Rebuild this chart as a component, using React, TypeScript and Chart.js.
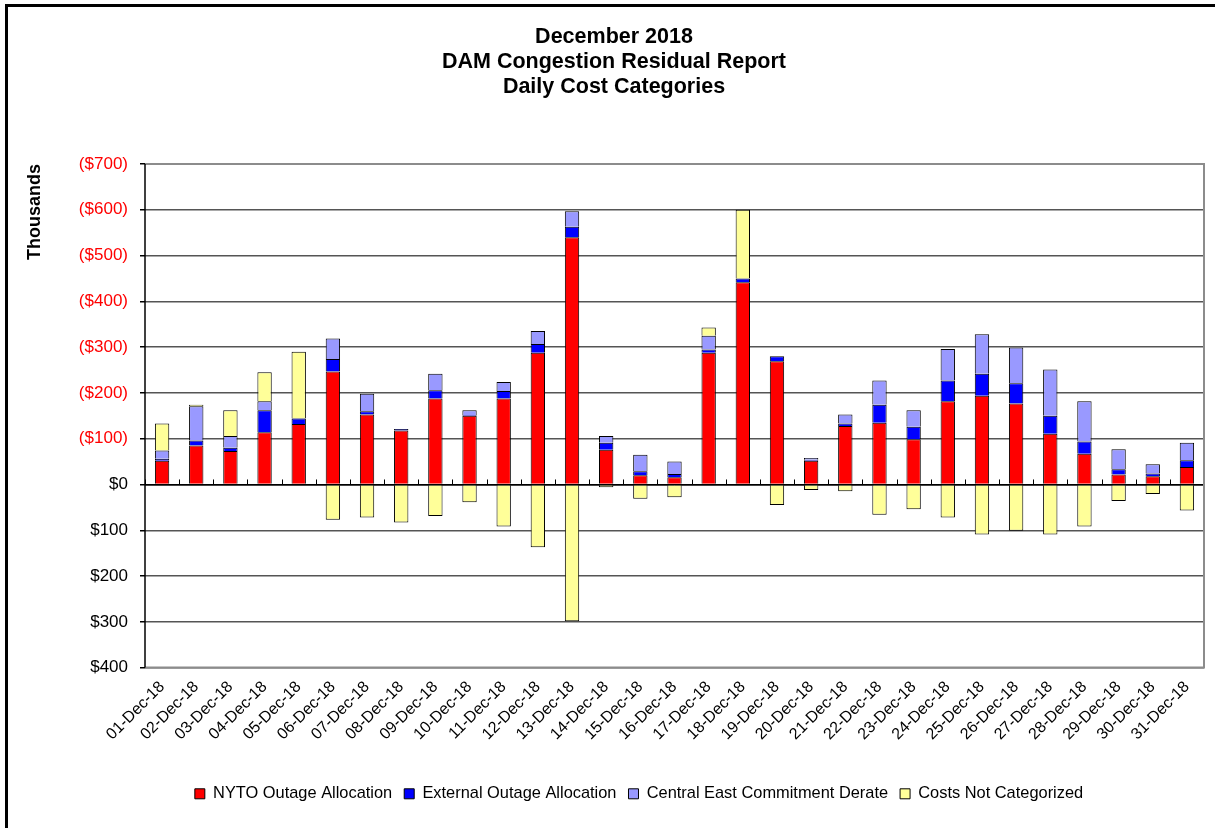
import React, { useEffect, useRef } from "react";
import { Chart, registerables } from "chart.js";

Chart.register(...registerables);

const categories = [
  "01-Dec-18", "02-Dec-18", "03-Dec-18", "04-Dec-18", "05-Dec-18", "06-Dec-18", "07-Dec-18",
  "08-Dec-18", "09-Dec-18", "10-Dec-18", "11-Dec-18", "12-Dec-18", "13-Dec-18", "14-Dec-18",
  "15-Dec-18", "16-Dec-18", "17-Dec-18", "18-Dec-18", "19-Dec-18", "20-Dec-18", "21-Dec-18",
  "22-Dec-18", "23-Dec-18", "24-Dec-18", "25-Dec-18", "26-Dec-18", "27-Dec-18", "28-Dec-18",
  "29-Dec-18", "30-Dec-18", "31-Dec-18",
];

// Values in thousands of dollars (upward = cost, shown as ($...) on the axis)
const nytoOutage = [52, 85, 73, 114, 132, 247, 153, 118, 188, 150, 188, 288, 540, 76, 20, 16, 288, 442, 269, 52, 128, 135, 99, 182, 194, 177, 111, 67, 22, 18, 38];
const externalOutage = [4, 11, 7, 48, 12, 27, 7, 3, 18, 2, 16, 19, 23, 15, 9, 7, 7, 8, 11, 2, 5, 39, 27, 45, 48, 44, 39, 27, 11, 6, 15];
const centralEast = [18, 75, 26, 20, 1, 45, 38, 0, 36, 10, 20, 28, 34, 15, 36, 27, 30, 0, 0, 4, 20, 53, 36, 69, 86, 78, 101, 88, 44, 20, 38];
const notCategorized = [59, 3, 56, 63, 145, -77, -72, -83, -69, -39, -92, -137, -299, -6, -31, -28, 18, 150, -45, -12, -15, -66, -54, -72, -109, -101, -109, -92, -36, -21, -57];

const yTickValues = [-400, -300, -200, -100, 0, 100, 200, 300, 400, 500, 600, 700];

const FONT = "'Liberation Sans', Arial, sans-serif";

const plotDecor = {
  id: "plotDecor",
  afterLayout(chart: any) {
    // Excel places the legend a little right of the canvas centre
    if (chart.legend) {
      chart.legend.left += 50;
    }
  },
  afterDatasetsDraw(chart: any) {
    const { ctx, chartArea, scales } = chart;
    const x = scales.x;
    const y = scales.y;
    const zeroY = y.getPixelForValue(0);
    ctx.save();
    ctx.strokeStyle = "#000";
    ctx.lineWidth = 1;
    ctx.beginPath();
    ctx.moveTo(chartArea.left, zeroY + 0.5);
    ctx.lineTo(chartArea.right, zeroY + 0.5);
    ctx.stroke();
    const n = categories.length;
    const step = n > 1 ? x.getPixelForValue(1) - x.getPixelForValue(0) : 0;
    for (let i = 0; i <= n; i++) {
      const px = Math.round(x.getPixelForValue(0) - step / 2 + i * step) + 0.5;
      ctx.beginPath();
      ctx.moveTo(px, zeroY);
      ctx.lineTo(px, zeroY - 5);
      ctx.stroke();
    }
    ctx.restore();
  },
  afterDraw(chart: any) {
    const { ctx, chartArea } = chart;
    ctx.save();
    ctx.strokeStyle = "#8c8c8c";
    ctx.lineWidth = 2;
    ctx.beginPath();
    ctx.moveTo(chartArea.left, chartArea.top);
    ctx.lineTo(chartArea.right, chartArea.top);
    ctx.lineTo(chartArea.right, chartArea.bottom);
    ctx.lineTo(chartArea.left, chartArea.bottom);
    ctx.stroke();
    ctx.strokeStyle = "#000";
    ctx.lineWidth = 1.5;
    ctx.beginPath();
    ctx.moveTo(chartArea.left, chartArea.top);
    ctx.lineTo(chartArea.left, chartArea.bottom);
    ctx.stroke();
    ctx.restore();
  },
};

export default function App() {
  const canvasRef = useRef<HTMLCanvasElement | null>(null);

  useEffect(() => {
    if (!canvasRef.current) return;
    const common = { borderColor: "#000", borderWidth: 1, barPercentage: 0.42, categoryPercentage: 1, stack: "s" };
    const chart = new Chart(canvasRef.current, {
      type: "bar",
      data: {
        labels: categories,
        datasets: [
          { label: "NYTO Outage Allocation", data: nytoOutage, backgroundColor: "#FF0000", ...common },
          { label: "External Outage Allocation", data: externalOutage, backgroundColor: "#0000FF", ...common },
          { label: "Central East Commitment Derate", data: centralEast, backgroundColor: "#9999FF", ...common },
          { label: "Costs Not Categorized", data: notCategorized, backgroundColor: "#FFFF99", ...common },
        ],
      },
      options: {
        animation: false,
        responsive: false,
        devicePixelRatio: 1,
        layout: { padding: { left: 24, right: 11, top: 0, bottom: 16 } },
        plugins: {
          title: {
            display: true,
            text: ["December 2018", "DAM Congestion Residual Report", "Daily Cost Categories"],
            color: "#000",
            font: { family: FONT, size: 21.5, weight: "bold", lineHeight: 1.163 },
            padding: { top: 25, bottom: 64 },
          },
          legend: {
            position: "bottom",
            labels: {
              color: "#000",
              font: { family: FONT, size: 16.4 },
              boxWidth: 10,
              boxHeight: 10,
              padding: 12,
            },
          },
          tooltip: { enabled: false },
        },
        scales: {
          x: {
            stacked: true,
            grid: { display: false },
            border: { display: false },
            ticks: {
              color: "#000",
              font: { family: FONT, size: 16 },
              minRotation: 45,
              maxRotation: 45,
              autoSkip: false,
              padding: 2,
            },
            afterFit: (scale: any) => {
              scale.height = 106;
            },
          },
          y: {
            stacked: true,
            min: -400,
            max: 700,
            afterBuildTicks: (scale: any) => {
              scale.ticks = yTickValues.map((v) => ({ value: v }));
            },
            grid: {
              color: (ctx: any) => (ctx.tick && ctx.tick.value === 0 ? "#000" : "#555"),
              lineWidth: 1.5,
              tickColor: "#000",
              tickLength: 5,
            },
            border: { display: false },
            ticks: {
              font: { family: FONT, size: 17 },
              color: (ctx: any) => (ctx.tick && ctx.tick.value > 0 ? "#FF0000" : "#000"),
              padding: 12,
              callback: (value: any) => {
                const v = Number(value);
                if (v > 0) return "($" + v + ")";
                if (v < 0) return "$" + -v;
                return "$0";
              },
            },
            title: {
              display: true,
              text: "Thousands",
              align: "end",
              color: "#000",
              font: { family: FONT, size: 18, weight: "bold", lineHeight: 1.2 },
              padding: { top: 0, bottom: 0 },
            },
            afterFit: (scale: any) => {
              scale.width = 121;
            },
          },
        },
      },
      plugins: [plotDecor],
    } as any);
    return () => chart.destroy();
  }, []);

  return (
    <div style={{ position: "fixed", left: 0, top: 0, width: 1215, height: 828, background: "#fff", overflow: "hidden" }}>
      <canvas ref={canvasRef} width={1215} height={828} style={{ position: "absolute", left: 0, top: 0 }} />
      <div
        style={{
          position: "absolute",
          left: 5,
          top: 4,
          width: 1300,
          height: 1000,
          borderLeft: "3px solid #000",
          borderTop: "3px solid #000",
          pointerEvents: "none",
        }}
      />
    </div>
  );
}
